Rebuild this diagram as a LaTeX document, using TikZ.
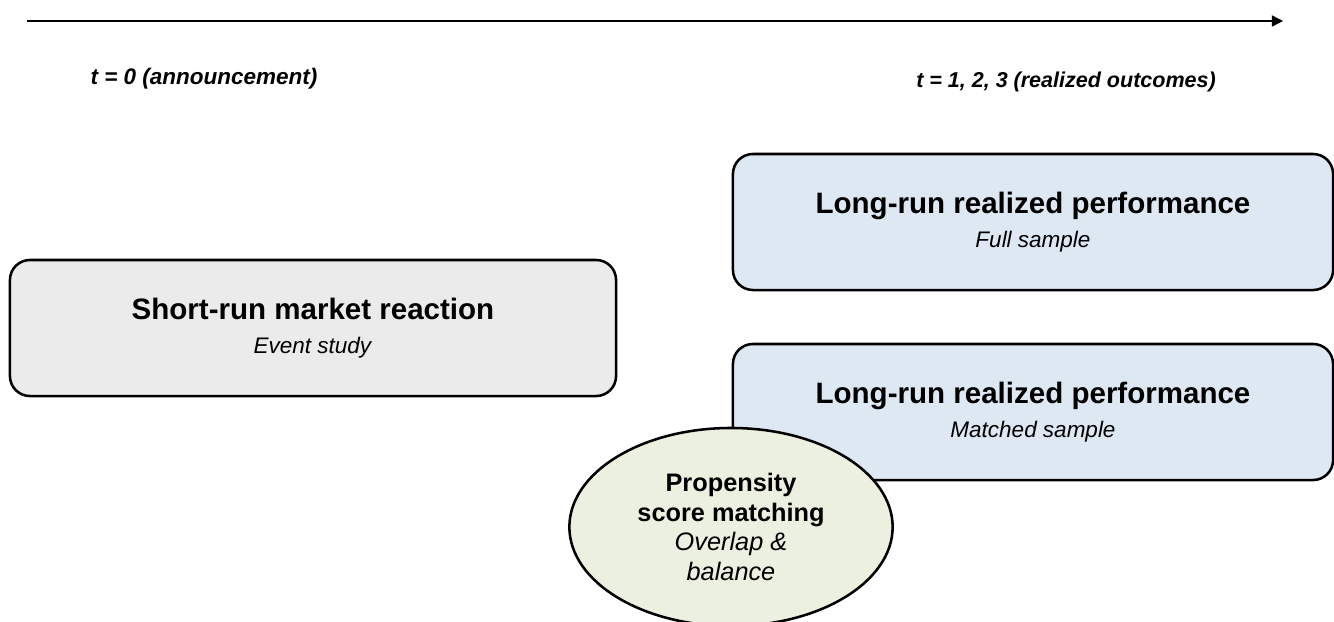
\documentclass[tikz,border=0pt]{standalone}
\usepackage{fontspec}
\setmainfont{Liberation Sans}
\usetikzlibrary{arrows.meta,positioning,shapes.geometric}
\definecolor{greyfill}{RGB}{235,235,235}
\definecolor{bluefill}{RGB}{222,232,243}
\definecolor{olivefill}{RGB}{236,240,224}
\newcommand{\boxtitle}[1]{{\fontsize{21}{24}\selectfont\bfseries #1}}

\begin{document}
\begin{tikzpicture}[x=0.025cm,y=-0.025cm,>={Triangle[length=8pt,width=8pt]},
            box/.style={draw,line width=1.8pt,rounded corners=0.5cm,align=center,
                minimum width=15.15cm,minimum height=3.4cm,
                font=\fontsize{16}{24}\selectfont},
            oval/.style={ellipse,draw,line width=1.8pt,fill=olivefill,align=center,
                minimum width=8.08cm,minimum height=4.95cm,inner sep=0pt,
                font=\fontsize{18}{21}\selectfont},
            timelabel/.style={font=\fontsize{16}{19}\selectfont\bfseries\itshape}]
            \clip (0,0) rectangle (1334,621);

            % time line
            \coordinate (t_start) at (27,21);
            \coordinate (t_end) at (1283,21);
            \draw[->,line width=1pt] (t_start) -- (t_end);
            \node[timelabel] (t_0) at (204,79) {t = 0 (announcement)};
            \node[timelabel,font=\fontsize{15.3}{19}\selectfont\bfseries\itshape]
                (t_1) at (1066,82) {t = 1, 2, 3 (realized outcomes)};

            % boxes
            \node[box,fill=greyfill] (short_run) at (313,328)
                {\boxtitle{Short-run market reaction}\\\textit{Event study}};
            \node[box,fill=bluefill,minimum width=15cm] (long_full) at (1033,222)
                {\boxtitle{Long-run realized performance}\\\textit{Full sample}};
            \node[box,fill=bluefill,minimum width=15cm] (long_matched) at (1033,412)
                {\boxtitle{Long-run realized performance}\\\textit{Matched sample}};

            % matching
            \node[oval] (psm) at (731,527)
                {\textbf{Propensity}\\\textbf{score matching}\\\textit{Overlap \&}\\\textit{balance}};
      \end{tikzpicture}
\end{document}
